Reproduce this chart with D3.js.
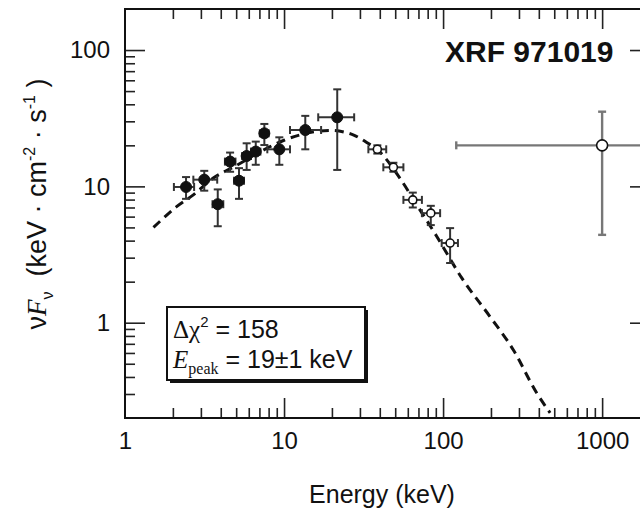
<!DOCTYPE html>
<html>
<head>
<meta charset="utf-8">
<script src="https://cdn.jsdelivr.net/npm/d3@7/dist/d3.min.js"></script>
<style>
  html, body { margin: 0; padding: 0; background: #fff; }
  svg { display: block; }
  text { font-family: "Liberation Sans", Arial, Helvetica, sans-serif; fill: #111; }
</style>
</head>
<body>
<svg id="chart" width="640" height="510"></svg>
<script>
// Low-energy points (filled): energy in keV with bin edges, νFν with 1σ range
const loEnergy   = [2.42, 3.15, 3.83, 4.58, 5.21, 5.82, 6.64, 7.52, 9.34, 13.6, 21.6];
const loEnergyLo = [2.03, 2.69, 3.55, 4.25, 4.85, 5.45, 6.20, 7.05, 7.85, 10.9, 16.4];
const loEnergyHi = [2.72, 3.80, 4.15, 4.95, 5.60, 6.20, 7.10, 8.00, 10.9, 17.1, 27.6];
const loFlux     = [9.9, 11.2, 7.4, 15.2, 11.0, 16.7, 18.0, 24.5, 18.7, 25.9, 32.1];
const loFluxLo   = [8.1, 9.3, 5.1, 12.8, 8.1, 13.2, 14.4, 20.1, 14.4, 18.7, 13.2];
const loFluxHi   = [11.7, 13.0, 9.5, 17.7, 13.6, 20.7, 21.3, 28.7, 22.9, 32.9, 51.5];

// High-energy points (open)
const hiEnergy   = [38.6, 48.7, 64.5, 83.7, 110.7, 1000];
const hiEnergyLo = [33.9, 42.1, 56.3, 73.6, 98, 121];
const hiEnergyHi = [43.9, 56.3, 73.6, 95.8, 124, 2000];
const hiFlux     = [18.7, 13.8, 7.96, 6.36, 3.84, 20];
const hiFluxLo   = [17.4, 12.8, 7.0, 5.2, 2.74, 4.41];
const hiFluxHi   = [20.0, 14.9, 9.0, 7.2, 4.94, 35.3];

// Fitted spectral model, sampled along the curve
const modelEnergy = [1.51, 1.70, 2.11, 2.69, 3.59, 5.0, 7.0, 10.0, 12.5, 16.0, 20.0, 24.0, 27.2, 33.1, 40.0, 53.7, 70.0, 91.3, 131, 197, 276, 388, 471];
const modelFlux   = [5.0, 5.69, 7.1, 8.66, 11.5, 14.2, 17.8, 21.8, 23.8, 25.3, 25.7, 25.0, 23.9, 21.0, 17.9, 11.4, 7.0, 4.29, 2.13, 1.11, 0.634, 0.305, 0.218];

const xTickLabels = [1, 10, 100, 1000];
const yTickLabels = [1, 10, 100];

const svg = d3.select("#chart");
svg.append("rect").attr("width", 640).attr("height", 510).attr("fill", "#fff");

const x = d3.scaleLog().domain([1, 2000]).range([125, 650]);
const y = d3.scaleLog().domain([0.2, 200]).range([418, 9]);
const [x0, x1] = x.range();
const [y0, y1] = y.range();

// major / minor tick values for each log axis
function logTicks(lo, hi) {
  const major = [], minor = [];
  for (let p = -1; p <= 3; p++) {
    for (let m = 1; m <= 9; m++) {
      const v = +(m * Math.pow(10, p)).toPrecision(6);
      if (v <= lo * 1.0001 || v >= hi * 0.9999) continue;
      (m === 1 ? major : minor).push(v);
    }
  }
  return { major, minor };
}
const xt = logTicks(1, 2000);
const yt = logTicks(0.2, 200);

const axisG = svg.append("g").attr("class", "axes");
function drawAxis(gen, transform, values, size) {
  const g = axisG.append("g").attr("transform", transform)
    .call(gen.tickValues(values).tickSize(size).tickFormat(""));
  g.select(".domain").remove();
  g.selectAll(".tick line").attr("stroke", "#222").attr("stroke-width", 1.6);
  return g;
}
// ticks point inward on all four sides
drawAxis(d3.axisBottom(x), `translate(0,${y0})`, xt.major, -20);
drawAxis(d3.axisBottom(x), `translate(0,${y0})`, xt.minor, -10);
drawAxis(d3.axisTop(x), `translate(0,${y1})`, xt.major, -20);
drawAxis(d3.axisTop(x), `translate(0,${y1})`, xt.minor, -10);
drawAxis(d3.axisLeft(y), `translate(${x0},0)`, yt.major, -20);
drawAxis(d3.axisLeft(y), `translate(${x0},0)`, yt.minor, -10);
drawAxis(d3.axisRight(y), `translate(${x1},0)`, yt.major, -20);
drawAxis(d3.axisRight(y), `translate(${x1},0)`, yt.minor, -10);

// frame
axisG.append("rect")
  .attr("x", x0).attr("y", y1).attr("width", x1 - x0).attr("height", y0 - y1)
  .attr("fill", "none").attr("stroke", "#111").attr("stroke-width", 2);

// tick labels
const xLab = d3.axisBottom(x).tickValues(xTickLabels).tickSize(0).tickPadding(14).tickFormat(d3.format("d"));
const gxl = svg.append("g").attr("transform", `translate(0,${y0})`).call(xLab);
gxl.select(".domain").remove();
gxl.selectAll("text").attr("font-size", 24).attr("font-family", "Liberation Sans, Arial, sans-serif").attr("fill", "#222");

const yLab = d3.axisLeft(y).tickValues(yTickLabels).tickSize(0).tickPadding(15).tickFormat(d3.format("d"));
const gyl = svg.append("g").attr("transform", `translate(${x0},0)`).call(yLab);
gyl.select(".domain").remove();
gyl.selectAll("text").attr("font-size", 24).attr("font-family", "Liberation Sans, Arial, sans-serif").attr("fill", "#222");

// axis titles
svg.append("text").attr("x", 382).attr("y", 503).attr("text-anchor", "middle")
  .attr("font-size", 25).attr("fill", "#222").text("Energy (keV)");

const yt0 = svg.append("text").attr("transform", "translate(46,204) rotate(-90)")
  .attr("text-anchor", "middle").attr("font-size", 27).attr("fill", "#222");
yt0.append("tspan").text("ν");
yt0.append("tspan").attr("font-family", "Liberation Serif, serif").attr("font-style", "italic").text("F");
yt0.append("tspan").attr("font-size", 16).attr("dy", 7).text("ν");
yt0.append("tspan").attr("dy", -7).text("\u00a0\u00a0(keV\u00a0·\u00a0cm");
yt0.append("tspan").attr("font-size", 16).attr("dy", -11).text("-2");
yt0.append("tspan").attr("dy", 11).text("\u00a0·\u00a0s");
yt0.append("tspan").attr("font-size", 16).attr("dy", -11).text("-1");
yt0.append("tspan").attr("dy", 11).text("\u00a0)");

// title
svg.append("text").attr("x", 445).attr("y", 62).attr("font-size", 30).attr("font-weight", "bold")
  .attr("fill", "#111").text("XRF 971019");

// model curve
const line = d3.line().x(d => x(d[0])).y(d => y(d[1])).curve(d3.curveMonotoneX);
svg.append("path")
  .datum(modelEnergy.map((e, i) => [e, modelFlux[i]]))
  .attr("d", line).attr("fill", "none").attr("stroke", "#111")
  .attr("stroke-width", 3).attr("stroke-dasharray", "9,6");

// error bars and markers
function drawPoints(E, ELo, EHi, F, FLo, FHi, filled) {
  const pts = E.map((e, i) => ({ e, elo: ELo[i], ehi: EHi[i], f: F[i], flo: FLo[i], fhi: FHi[i] }));
  const g = svg.append("g");
  const cap = 4;
  pts.forEach(p => {
    const big = p.e > 500;
    const col = big ? "#777" : "#333";
    const sw = big ? 2.4 : 2;
    const cx = x(p.e), cy = y(p.f);
    const seg = (a, b, c, d) => g.append("line").attr("x1", a).attr("y1", b).attr("x2", c).attr("y2", d)
      .attr("stroke", col).attr("stroke-width", sw);
    seg(x(p.elo), cy, x(p.ehi), cy);
    seg(x(p.elo), cy - cap, x(p.elo), cy + cap);
    seg(x(p.ehi), cy - cap, x(p.ehi), cy + cap);
    seg(cx, y(p.flo), cx, y(p.fhi));
    seg(cx - cap, y(p.flo), cx + cap, y(p.flo));
    seg(cx - cap, y(p.fhi), cx + cap, y(p.fhi));
  });
  g.selectAll("circle").data(pts).join("circle")
    .attr("cx", d => x(d.e)).attr("cy", d => y(d.f))
    .attr("r", d => filled ? 5.5 : (d.e > 500 ? 5.5 : 4))
    .attr("fill", filled ? "#111" : "#fff")
    .attr("stroke", "#111").attr("stroke-width", filled ? 1 : 1.6);
}
drawPoints(loEnergy, loEnergyLo, loEnergyHi, loFlux, loFluxLo, loFluxHi, true);
drawPoints(hiEnergy, hiEnergyLo, hiEnergyHi, hiFlux, hiFluxLo, hiFluxHi, false);

// fit summary box with drop shadow
const bx = 167, by = 307, bw = 198, bh = 73;
svg.append("rect").attr("x", bx + 3).attr("y", by + 3).attr("width", bw).attr("height", bh).attr("fill", "#111");
svg.append("rect").attr("x", bx).attr("y", by).attr("width", bw).attr("height", bh)
  .attr("fill", "#fff").attr("stroke", "#111").attr("stroke-width", 2);

const t1 = svg.append("text").attr("x", bx + 6).attr("y", by + 31).attr("font-size", 25).attr("fill", "#111");
t1.append("tspan").attr("font-family", "Liberation Serif, serif").text("Δχ");
t1.append("tspan").attr("font-size", 15).attr("dy", -11).text("2");
t1.append("tspan").attr("dy", 11).text(" = 158");

const t2 = svg.append("text").attr("x", bx + 6).attr("y", by + 61).attr("font-size", 25).attr("fill", "#111");
t2.append("tspan").attr("font-family", "Liberation Serif, serif").attr("font-style", "italic").text("E");
t2.append("tspan").attr("font-family", "Liberation Serif, serif").attr("font-size", 16).attr("dy", 6).text("peak");
t2.append("tspan").attr("dy", -6).text(" = 19±1 keV");
</script>
</body>
</html>
